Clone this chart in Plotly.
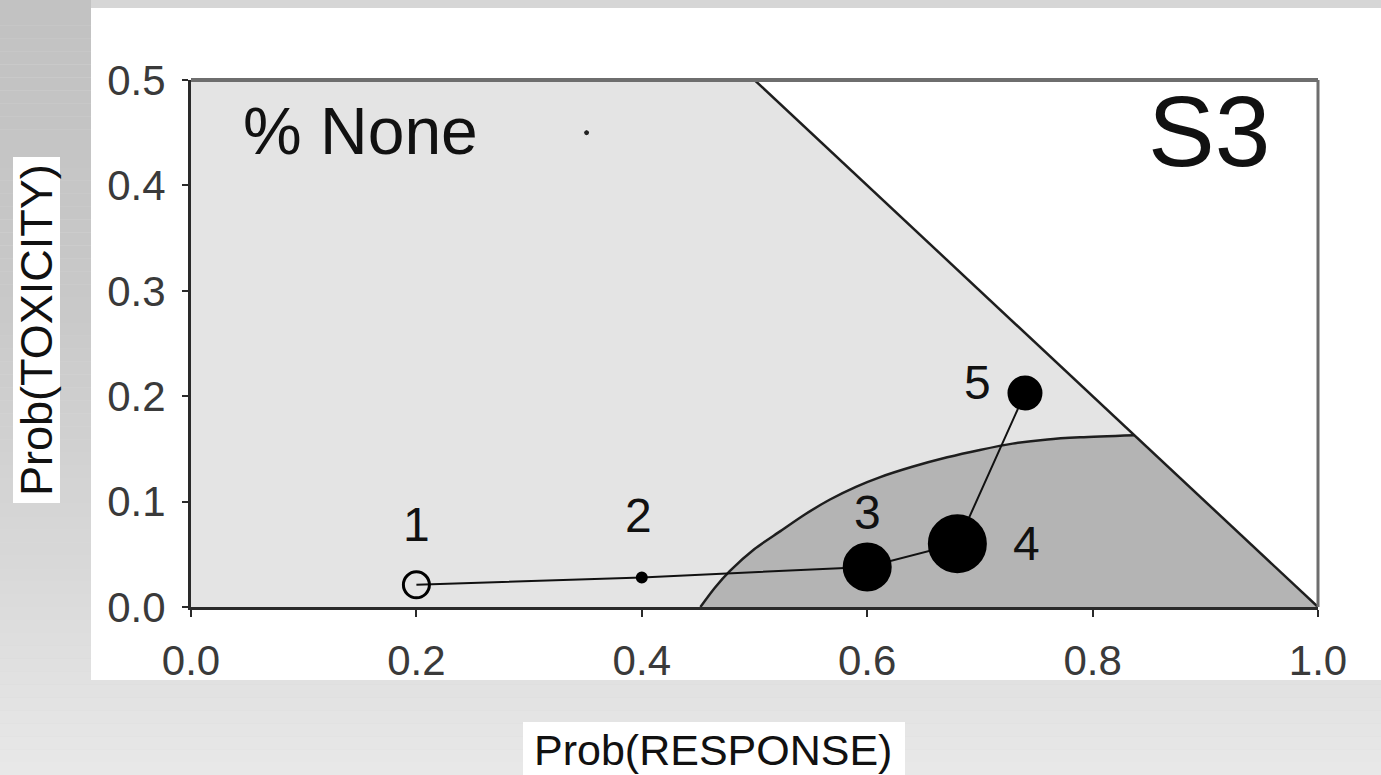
import plotly.graph_objects as go
import numpy as np

# ---------------- data ----------------
dose_labels = ["1", "2", "3", "4", "5"]
prob_response = [0.20, 0.40, 0.60, 0.68, 0.74]
prob_toxicity = [0.021, 0.028, 0.038, 0.060, 0.203]
marker_sizes = [26, 9, 46, 56, 32]          # proportional to % selected
marker_symbols = ["circle-open", "circle", "circle", "circle", "circle"]

none_x = [0.351]
none_y = [0.450]
none_size = [6]

# acceptability boundary (straight line)
boundary_x = [0.5, 1.0]
boundary_y = [0.5, 0.0]

# desirable-region contour
contour_x = [0.452, 0.465, 0.478, 0.500, 0.523, 0.545, 0.567, 0.590,
             0.611, 0.640, 0.671, 0.700, 0.729, 0.760, 0.789, 0.837]
contour_y = [0.000, 0.0185, 0.034, 0.055, 0.072, 0.088, 0.102, 0.114,
             0.123, 0.133, 0.142, 0.149, 0.155, 0.159, 0.161, 0.163]

x_ticks = [0.0, 0.2, 0.4, 0.6, 0.8, 1.0]
y_ticks = [0.0, 0.1, 0.2, 0.3, 0.4, 0.5]

# ---------------- layout geometry ----------------
W, H = 1381, 775
L, R, T, B = 191, 1318, 80, 607


def px(xp):
    return (xp - L) / (R - L)


def py(yp):
    return (B - yp) / (B - T)


FONT = "Liberation Sans, Arial, Helvetica, sans-serif"

fig = go.Figure()

# light grey acceptable region (below boundary line)
lx = [0.0, 0.0] + boundary_x + [0.0]
ly = [0.0, 0.5] + boundary_y + [0.0]
fig.add_trace(go.Scatter(x=lx, y=ly, mode="none", fill="toself",
                         fillcolor="#e4e4e4", hoverinfo="skip", showlegend=False))

# dark grey desirable region
dx = contour_x + [boundary_x[1], contour_x[0]]
dy = contour_y + [boundary_y[1], contour_y[0]]
fig.add_trace(go.Scatter(x=dx, y=dy, mode="none", fill="toself",
                         fillcolor="#b4b4b4", hoverinfo="skip", showlegend=False))

# boundary line
fig.add_trace(go.Scatter(x=boundary_x, y=boundary_y, mode="lines",
                         line=dict(color="#1e1e1e", width=2.5),
                         hoverinfo="skip", showlegend=False))
# contour line
fig.add_trace(go.Scatter(x=contour_x, y=contour_y, mode="lines",
                         line=dict(color="#1e1e1e", width=2.5, shape="spline",
                                   smoothing=0.8),
                         hoverinfo="skip", showlegend=False))

# dose path
fig.add_trace(go.Scatter(x=prob_response, y=prob_toxicity, mode="lines",
                         line=dict(color="#111111", width=2),
                         hoverinfo="skip", showlegend=False))
fig.add_trace(go.Scatter(x=prob_response, y=prob_toxicity, mode="markers",
                         marker=dict(size=marker_sizes, symbol=marker_symbols,
                                     color="#000000", opacity=1,
                                     line=dict(color="#000000", width=3)),
                         text=dose_labels, showlegend=False))
# % None marker
fig.add_trace(go.Scatter(x=none_x, y=none_y, mode="markers",
                         marker=dict(size=none_size, color="#222222", opacity=1),
                         showlegend=False))

# dose labels
offsets = [(0, 60), (-3, 62), (0, 54), (69, 0), (-47, 11)]
for lab, xv, yv, (dxs, dys) in zip(dose_labels, prob_response, prob_toxicity, offsets):
    fig.add_annotation(x=xv, y=yv, text=lab, showarrow=False,
                       xshift=dxs, yshift=dys,
                       xanchor="center", yanchor="middle",
                       font=dict(family=FONT, size=48, color="#111111"))

fig.add_annotation(x=0.15, y=0.452, text="% None", showarrow=False,
                   xanchor="center", yanchor="middle",
                   font=dict(family=FONT, size=66, color="#111111"))
fig.add_annotation(x=0.903, y=0.452, text="S3", showarrow=False,
                   xanchor="center", yanchor="middle",
                   font=dict(family=FONT, size=100, color="#111111"))

# axis titles (on white label boxes)
fig.add_annotation(xref="paper", yref="paper", x=px(713), y=py(750),
                   text="Prob(RESPONSE)", showarrow=False,
                   xanchor="center", yanchor="middle",
                   font=dict(family=FONT, size=43, color="#111111"))
fig.add_annotation(xref="paper", yref="paper", x=px(36), y=py(330),
                   text="Prob(TOXICITY)", showarrow=False, textangle=-90,
                   xanchor="center", yanchor="middle",
                   font=dict(family=FONT, size=45, color="#111111"))

# ---------------- decorative background ----------------
shapes = []
nb = 60
for i in range(nb):
    y0p = i * H / nb
    y1p = (i + 1) * H / nb
    ym = (y0p + y1p) / 2
    g = np.interp(ym, [0, 300, 550, 775], [194, 201, 216, 233])
    c = f"rgb({int(g)},{int(g)},{int(g)})"
    shapes.append(dict(type="rect", xref="paper", yref="paper", layer="below",
                       x0=px(0), x1=px(W), y0=py(y1p), y1=py(y0p),
                       fillcolor=c, line=dict(width=0)))
shapes.append(dict(type="rect", xref="paper", yref="paper", layer="below",
                   x0=px(91), x1=px(W), y0=py(8), y1=py(0),
                   fillcolor="#d6d6d6", line=dict(width=0)))
# white panel
shapes.append(dict(type="rect", xref="paper", yref="paper", layer="below",
                   x0=px(91), x1=px(W + 2), y0=py(680), y1=py(8),
                   fillcolor="#ffffff", line=dict(width=0)))
# axis-title boxes
shapes.append(dict(type="rect", xref="paper", yref="paper", layer="below",
                   x0=px(523), x1=px(905), y0=py(776), y1=py(722),
                   fillcolor="#ffffff", line=dict(width=0)))
shapes.append(dict(type="rect", xref="paper", yref="paper", layer="below",
                   x0=px(13), x1=px(60), y0=py(503), y1=py(157),
                   fillcolor="#ffffff", line=dict(width=0)))
# top and right frame
shapes.append(dict(type="line", xref="paper", yref="paper", layer="above",
                   x0=0, x1=1, y0=1, y1=1, line=dict(color="#6e6e6e", width=4)))
shapes.append(dict(type="line", xref="paper", yref="paper", layer="above",
                   x0=1, x1=1, y0=0, y1=1, line=dict(color="#6e6e6e", width=3)))

fig.update_layout(
    width=W, height=H, autosize=False,
    margin=dict(l=L, r=W - R, t=T, b=H - B, pad=0),
    paper_bgcolor="#d8d8d8",
    plot_bgcolor="rgba(0,0,0,0)",
    shapes=shapes,
    showlegend=False,
    font=dict(family=FONT),
)
fig.update_xaxes(range=[0, 1], tickvals=x_ticks,
                 ticktext=[f"{v:.1f}" for v in x_ticks],
                 showgrid=False, zeroline=False, showline=True,
                 linecolor="#2a2a2a", linewidth=3,
                 ticks="outside", ticklen=7, tickwidth=2, tickcolor="#2a2a2a",
                 tickfont=dict(family=FONT, size=42, color="#3a3a3a"),
                 ticklabelstandoff=8)
fig.update_yaxes(range=[0, 0.5], tickvals=y_ticks,
                 ticktext=[f"{v:.1f}" for v in y_ticks],
                 showgrid=False, zeroline=False, showline=True,
                 linecolor="#2a2a2a", linewidth=3,
                 ticks="outside", ticklen=6, tickwidth=2, tickcolor="#2a2a2a",
                 tickfont=dict(family=FONT, size=42, color="#3a3a3a"),
                 ticklabelstandoff=8)

fig.write_html("out.html",
               config={"displayModeBar": False},
               post_script="document.body.style.margin='0';"
                           "document.body.style.overflow='hidden';")
